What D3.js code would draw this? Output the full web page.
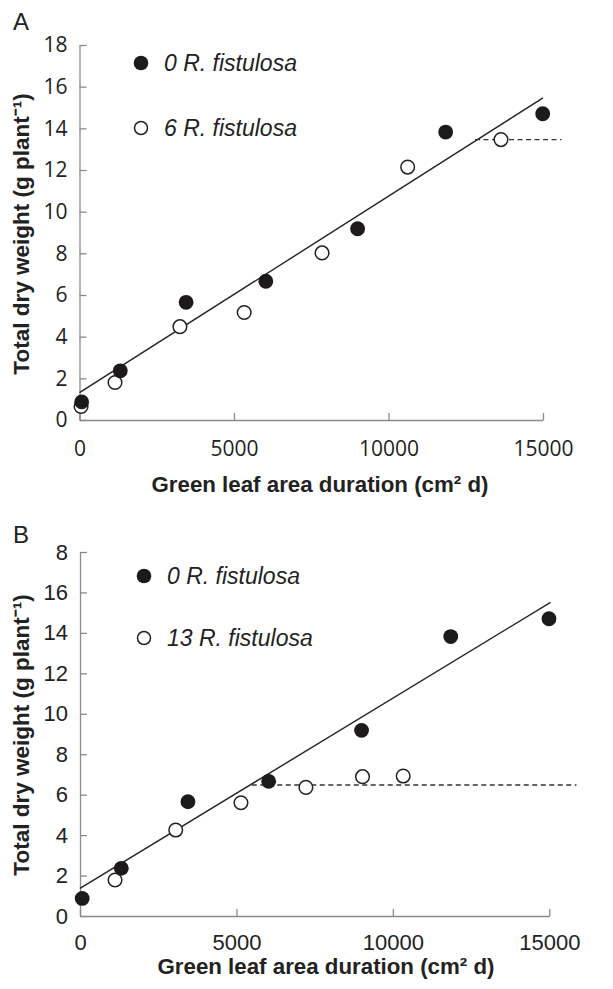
<!DOCTYPE html>
<html>
<head>
<meta charset="utf-8">
<script src="https://cdn.jsdelivr.net/npm/d3@7"></script>
<style>
  body { margin: 0; background: #fff; }
  svg { display: block; }
</style>
</head>
<body>
<script>
// data: [green leaf area duration, total dry weight]
var zeroFistulosa = [[70, 0.87], [1320, 2.36], [3450, 5.65], [6030, 6.66], [9000, 9.18], [11850, 13.82], [14990, 14.7]];
var sixFistulosa = [[50, 0.65], [1150, 1.8], [3250, 4.48], [5330, 5.16], [7850, 8.02], [10620, 12.14], [13640, 13.46]];
var thirteenFistulosa = [[1120, 1.78], [3060, 4.25], [5145, 5.6], [7220, 6.36], [9030, 6.89], [10330, 6.92]];

// fitted lines
var fitA = [[0, 1.31], [15000, 15.46]];
var plateauA = [[12800, 13.46], [15600, 13.46]];
var fitB = [[0, 1.37], [15040, 15.51]];
var plateauB = [[5490, 6.48], [15870, 6.48]];

// ticks
var xTicks = [0, 5000, 10000, 15000];
var yTicks = [0, 2, 4, 6, 8, 10, 12, 14, 16, 18];
var yTickLabelsA = ["0", "2", "4", "6", "8", "10", "12", "14", "16", "18"];
var yTickLabelsB = ["0", "2", "4", "6", "8", "10", "12", "14", "16", "8"];

var width = 613;
var height = 989;

var svg = d3.select("body").append("svg")
    .attr("width", width)
    .attr("height", height);

var sans = "'Liberation Sans', Arial, sans-serif";

function drawPanel(opt) {
  var x = d3.scaleLinear().domain([0, 15000]).range([opt.left, opt.right]);
  var y = d3.scaleLinear().domain([0, 18]).range([opt.bottom, opt.top]);
  var g = svg.append("g");

  // x axis
  var xAxis = g.append("g")
      .attr("transform", `translate(0, ${opt.bottom})`)
      .call(d3.axisBottom(x).tickValues(xTicks).tickFormat(d3.format("d"))
        .tickSizeInner(-7).tickSizeOuter(0).tickPadding(opt.xPad));
  // y axis
  var yAxis = g.append("g")
      .attr("transform", `translate(${opt.left}, 0)`)
      .call(d3.axisLeft(y).tickValues(yTicks).tickFormat((d, i) => opt.yLabels[i])
        .tickSizeInner(-7).tickSizeOuter(0).tickPadding(12));

  [xAxis, yAxis].forEach(a => {
    a.select(".domain").attr("stroke", "#8a8a8a").attr("stroke-width", 1.3);
    a.selectAll(".tick line").attr("stroke", "#8a8a8a").attr("stroke-width", 1.3);
    a.selectAll("text")
      .attr("font-family", opt.font)
      .attr("font-size", opt.tickSize)
      .attr("fill", "#222");
  });

  var line = d3.line().x(d => x(d[0])).y(d => y(d[1]));

  g.append("path").datum(opt.fit)
      .attr("d", line)
      .attr("fill", "none")
      .attr("stroke", "#222")
      .attr("stroke-width", 1.4);

  g.append("path").datum(opt.plateau)
      .attr("d", line)
      .attr("fill", "none")
      .attr("stroke", "#333")
      .attr("stroke-width", 1.4)
      .attr("stroke-dasharray", "5,3.5");

  // open points first, filled on top
  g.selectAll("circle.open").data(opt.open).enter().append("circle")
      .attr("class", "open")
      .attr("cx", d => x(d[0]))
      .attr("cy", d => y(d[1]))
      .attr("r", 6.8)
      .attr("fill", "#fff")
      .attr("stroke", "#222")
      .attr("stroke-width", 1.5);

  g.selectAll("circle.filled").data(opt.filled).enter().append("circle")
      .attr("class", "filled")
      .attr("cx", d => x(d[0]))
      .attr("cy", d => y(d[1]))
      .attr("r", 7.4)
      .attr("fill", "#1c1a1a");

  // legend
  var legend = g.append("g");
  legend.append("circle")
      .attr("cx", opt.legX).attr("cy", opt.legY1).attr("r", 7.3)
      .attr("fill", "#1c1a1a");
  legend.append("circle")
      .attr("cx", opt.legX).attr("cy", opt.legY2).attr("r", 6.5)
      .attr("fill", "#fff").attr("stroke", "#222").attr("stroke-width", 1.5);
  [[opt.legY1, opt.leg1], [opt.legY2, opt.leg2]].forEach(l => {
    legend.append("text")
        .attr("x", opt.legX + 23).attr("y", l[0]).attr("dy", "0.36em")
        .attr("font-family", sans).attr("font-size", 23).attr("font-style", "italic")
        .attr("fill", "#222")
        .text(l[1]);
  });

  // panel letter
  g.append("text")
      .attr("x", 13).attr("y", opt.letterY)
      .attr("font-family", sans)
      .attr("font-size", 24)
      .attr("fill", "#222")
      .text(opt.letter);

  // axis titles
  g.append("text")
      .attr("x", opt.xTitleX).attr("y", opt.xTitleY)
      .attr("text-anchor", "middle")
      .attr("font-family", sans)
      .attr("font-weight", "bold")
      .attr("font-size", 22.3)
      .attr("fill", "#222")
      .text("Green leaf area duration (cm² d)");

  g.append("text")
      .attr("transform", `translate(29, ${opt.yTitleY}) rotate(-90)`)
      .attr("text-anchor", "middle")
      .attr("font-family", sans)
      .attr("font-weight", "bold")
      .attr("font-size", 22.5)
      .attr("fill", "#222")
      .text("Total dry weight (g plant⁻¹)");
}

drawPanel({
  left: 79.5, right: 543, top: 45, bottom: 420,
  xPad: 21, yLabels: yTickLabelsA, tickSize: 21,
  font: "'Open Sans', 'Liberation Sans', sans-serif",
  filled: zeroFistulosa, open: sixFistulosa,
  fit: fitA, plateau: plateauA,
  legX: 141, legY1: 63, legY2: 128,
  leg1: "0 R. fistulosa", leg2: "6 R. fistulosa",
  letter: "A", letterY: 30,
  xTitleX: 320, xTitleY: 492, yTitleY: 234
});

drawPanel({
  left: 80, right: 549.3, top: 552, bottom: 916,
  xPad: 18, yLabels: yTickLabelsB, tickSize: 22,
  font: sans,
  filled: zeroFistulosa, open: thirteenFistulosa,
  fit: fitB, plateau: plateauB,
  legX: 144, legY1: 576, legY2: 638,
  leg1: "0 R. fistulosa", leg2: "13 R. fistulosa",
  letter: "B", letterY: 543,
  xTitleX: 326, xTitleY: 974, yTitleY: 735
});
</script>
</body>
</html>
